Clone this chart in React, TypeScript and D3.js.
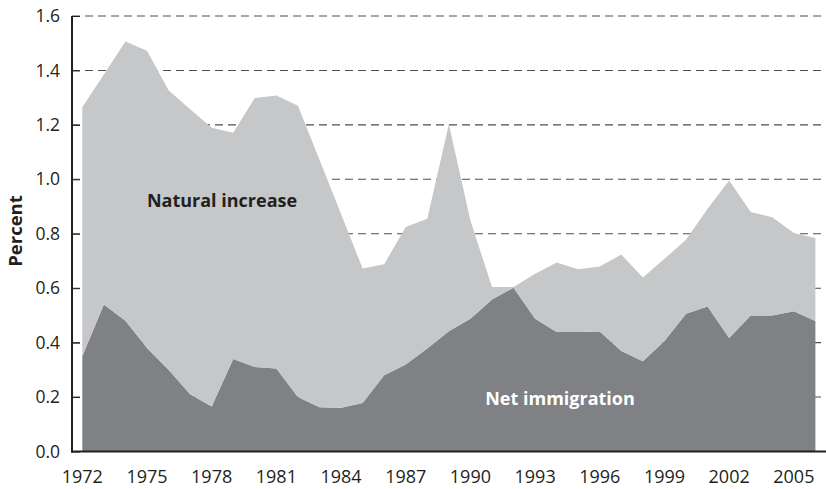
import React, { useEffect, useRef } from 'react';
import * as d3 from 'd3';

const years = d3.range(1972, 2007);

// percent of population
const netImmigration = [
  0.35, 0.54, 0.48, 0.38, 0.30, 0.21, 0.165, 0.34, 0.31, 0.305,
  0.20, 0.163, 0.161, 0.178, 0.28, 0.32, 0.378, 0.442, 0.488, 0.558,
  0.602, 0.488, 0.439, 0.439, 0.441, 0.369, 0.332, 0.406, 0.506, 0.533,
  0.417, 0.50, 0.50, 0.515, 0.479,
];
const naturalIncrease = [
  0.915, 0.845, 1.026, 1.092, 1.027, 1.047, 1.024, 0.831, 0.989, 1.003,
  1.07, 0.909, 0.712, 0.494, 0.408, 0.505, 0.477, 0.76, 0.361, 0.046,
  0.002, 0.165, 0.255, 0.231, 0.239, 0.355, 0.307, 0.302, 0.272, 0.359,
  0.579, 0.38, 0.361, 0.288, 0.305,
];
const yTicks = [0, 0.2, 0.4, 0.6, 0.8, 1.0, 1.2, 1.4, 1.6];
const xTickYears = [1972, 1975, 1978, 1981, 1984, 1987, 1990, 1993, 1996, 1999, 2002, 2005];

const App = () => {
  const ref = useRef<SVGSVGElement | null>(null);

  useEffect(() => {
    const svg = d3.select(ref.current);
    svg.selectAll('*').remove();

    const font = '"Open Sans", "Noto Sans", sans-serif';
    const ink = '#231f20';
    const axisX = 72;
    const right = 826;

    const x = d3.scaleLinear().domain([1972, 2006]).range([82.3, 815.4]);
    const y = d3.scaleLinear().domain([0, 1.6]).range([451.5, 16]);

    const rows = years.map((yr, i) => ({
      year: yr,
      net: netImmigration[i],
      natural: naturalIncrease[i],
    }));
    const stacked = d3.stack<any>().keys(['net', 'natural'])(rows);

    // dashed grid
    svg
      .append('g')
      .selectAll('line')
      .data(yTicks.filter(d => d > 0))
      .enter()
      .append('line')
      .attr('x1', axisX)
      .attr('x2', right)
      .attr('y1', d => y(d))
      .attr('y2', d => y(d))
      .attr('stroke', '#4d4d4f')
      .attr('stroke-width', 1.1)
      .attr('stroke-dasharray', '8,5');

    const area = d3
      .area<any>()
      .x(d => x(d.data.year))
      .y0(d => y(d[0]))
      .y1(d => y(d[1]));

    const fills = ['#808184', '#c6c7c9'];
    svg
      .append('g')
      .selectAll('path')
      .data(stacked)
      .enter()
      .append('path')
      .attr('d', d => area(d))
      .attr('fill', (d, i) => fills[i]);

    // y axis, ticks pointing inward
    const yAxis = d3
      .axisLeft(y)
      .tickValues(yTicks)
      .tickSize(-8)
      .tickPadding(12)
      .tickFormat(d3.format('.1f'));
    const gy = svg.append('g').attr('transform', `translate(${axisX},0)`).call(yAxis);
    gy.select('.domain').remove();
    gy.selectAll('.tick line').attr('stroke', ink).attr('stroke-width', 1);
    gy.selectAll('.tick text')
      .attr('fill', ink)
      .style('font-family', font)
      .style('font-size', '17.5px');
    svg
      .append('line')
      .attr('x1', axisX)
      .attr('x2', axisX)
      .attr('y1', y(1.6))
      .attr('y2', y(0) + 1)
      .attr('stroke', ink)
      .attr('stroke-width', 2);

    // x axis
    svg
      .append('line')
      .attr('x1', axisX - 1)
      .attr('x2', right)
      .attr('y1', y(0))
      .attr('y2', y(0))
      .attr('stroke', ink)
      .attr('stroke-width', 2);
    svg
      .append('g')
      .selectAll('text')
      .data(xTickYears)
      .enter()
      .append('text')
      .attr('x', d => x(d))
      .attr('y', 483)
      .attr('text-anchor', 'middle')
      .attr('fill', ink)
      .style('font-family', font)
      .style('font-size', '18px')
      .text(d => d);

    svg
      .append('text')
      .attr('transform', `translate(22,231) rotate(-90)`)
      .attr('text-anchor', 'middle')
      .attr('fill', ink)
      .style('font-family', font)
      .style('font-size', '18.5px')
      .style('font-weight', 'bold')
      .text('Percent');

    svg
      .append('text')
      .attr('x', 222)
      .attr('y', 207)
      .attr('text-anchor', 'middle')
      .attr('fill', ink)
      .style('font-family', font)
      .style('font-size', '18px')
      .style('font-weight', 'bold')
      .text('Natural increase');

    svg
      .append('text')
      .attr('x', 560)
      .attr('y', 405)
      .attr('text-anchor', 'middle')
      .attr('fill', '#fff')
      .style('font-family', font)
      .style('font-size', '18px')
      .style('font-weight', 'bold')
      .text('Net immigration');
  }, []);

  return (
    <svg
      ref={ref}
      width={826}
      height={489}
      style={{ position: 'absolute', left: 0, top: 0, background: '#fff' }}
    />
  );
};

export default App;
